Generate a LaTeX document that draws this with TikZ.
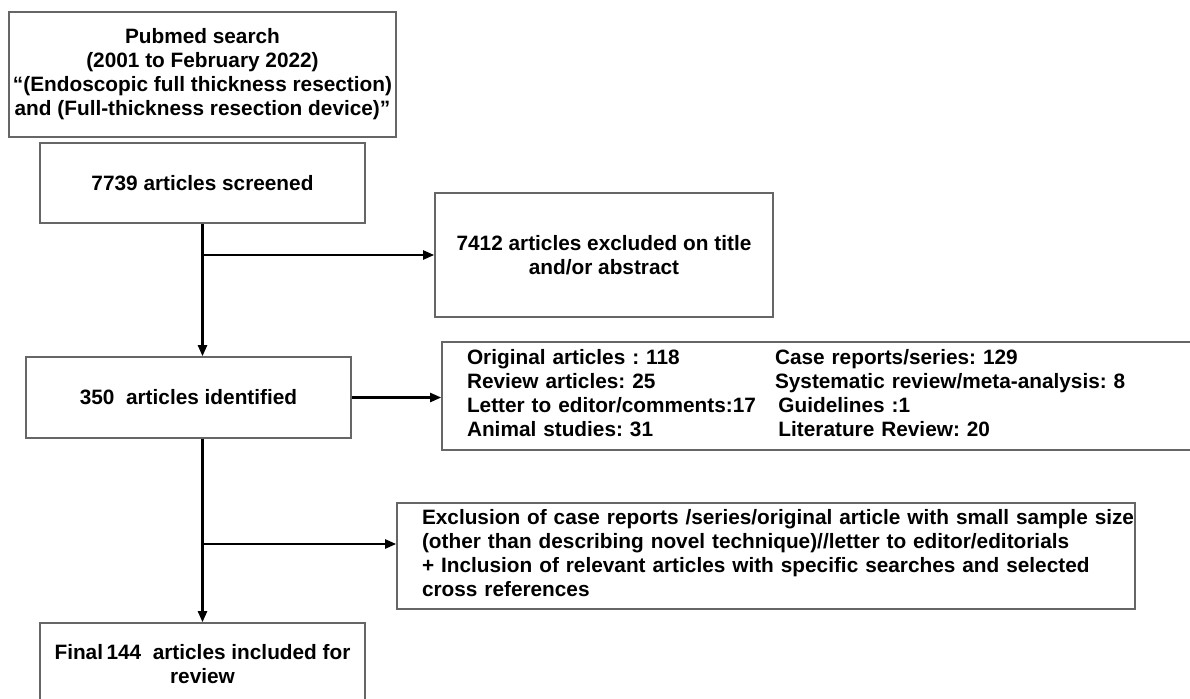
\documentclass[tikz,border=0pt]{standalone}
\usepackage{fontspec}
\setmainfont{Liberation Sans}
\usetikzlibrary{arrows.meta}
\usetikzlibrary{positioning}
\usetikzlibrary{calc}
\frenchspacing

\begin{document}
\begin{tikzpicture}[x=0.5pt,y=-0.5pt,
		box/.style={draw=black!60, line width=0.8pt, font=\fontsize{10.4pt}{12pt}\selectfont\bfseries, align=center, inner sep=0pt},
		arr/.style={line width=1.1pt, -{Triangle[length=5.5pt,width=4.5pt]}}]
					% page size
					\useasboundingbox (0,0) rectangle (1190,698);
					% boxes
					\node[box, minimum width=193.5pt, minimum height=62.5pt] (search) at (202.5,74.5) {Pubmed search\\(2001 to February 2022)\\“(Endoscopic full thickness resection)\\and (Full-thickness resection device)”};
					\node[box, minimum width=162.5pt, minimum height=40pt] (screened) at (202.5,183) {7739 articles screened};
					\node[box, minimum width=169pt, minimum height=62pt] (excluded) at (604,255) {7412 articles excluded on title\\and/or abstract};
					\node[box, minimum width=162.5pt, minimum height=40.5pt] (identified) at (188.5,397.5) {350~~articles identified};
					\node[box, minimum height=54pt, text width=351pt, inner xsep=12.5pt, align=left] (types) at (818,396) {%
						\begin{tabular}{@{}p{154pt}@{}l@{}}
						Original articles : 118 & Case reports/series: 129\\
						Review articles: 25 & Systematic review/meta-analysis: 8\\
						Letter to editor/comments:17 & \,Guidelines :1\\
						Animal studies: 31 & \,Literature Review: 20
						\end{tabular}};
					\node[box, minimum height=53pt, text width=344pt, inner xsep=12.5pt, align=left] (exclusion) at (766,556) {%
						\begin{tabular}{@{}l@{}}
						Exclusion of case reports /series/original article with small sample size\\
						(other than describing novel technique)//letter to editor/editorials\\
						+ Inclusion of relevant articles with specific searches and selected\\
						cross references
						\end{tabular}};
					\node[box, minimum width=162.5pt, minimum height=41.5pt] (final) at (202.5,664.5) {Final\,144~~articles included for\\review};
					% branch points
					\coordinate (b1) at (screened.south |- excluded.west);
					\coordinate (b2) at (202.5,544);
					% arrows
					\draw[arr] (screened.south) -- (screened.south |- identified.north);
					\draw[arr] (b1) -- (excluded.west);
					\draw[arr] (identified.east) -- (identified.east -| types.west);
					\draw[arr] (identified.south -| final.north) -- (final.north);
					\draw[arr] (b2) -- (b2 -| exclusion.west);
				\end{tikzpicture}
\end{document}
